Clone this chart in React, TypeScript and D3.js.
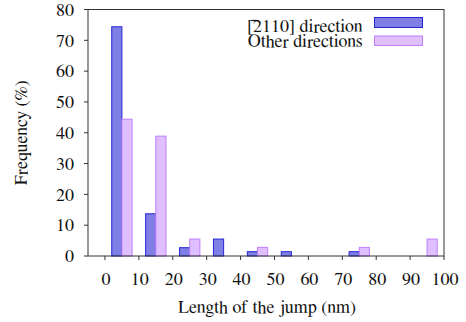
import React from "react";
import * as d3 from "d3";

// bin centres (nm) and frequencies (%)
const binCenters = [5, 15, 25, 35, 45, 55, 65, 75, 85, 95];
const mainDirection = [74.4, 13.7, 2.7, 5.5, 1.4, 1.4, 0, 1.4, 0, 0];
const otherDirections = [44.4, 38.9, 5.5, 0, 2.8, 0, 0, 2.8, 0, 5.5];
const xTicks = [0, 10, 20, 30, 40, 50, 60, 70, 80, 90, 100];
const yTicks = [0, 10, 20, 30, 40, 50, 60, 70, 80];

const W = 466;
const H = 322;
const margin = { top: 9.5, right: 22, bottom: 66, left: 88 };
const FONT = "FreeSerif";
const AXIS = "#333";
const txt = { fontFamily: FONT, fontSize: 18, fill: "#111" };

const series = [
  { name: "main", values: mainDirection, offset: -3, fill: "#7f7fe6", stroke: "#2626d4" },
  { name: "other", values: otherDirections, offset: 0, fill: "#dfbfff", stroke: "#bf7fff" },
];

export default function App() {
  const x = d3.scaleLinear().domain([-5, 100]).range([margin.left, W - margin.right]);
  const y = d3.scaleLinear().domain([0, 80]).range([H - margin.bottom, margin.top]);
  const x0 = x(-5), x1 = x(100), y0 = y(0), y1 = y(80);
  const legendX = 362.5;

  return (
    <svg width={W} height={H} style={{ position: "absolute", left: 0, top: 0, background: "#fff" }}>
      {series.map(s =>
        s.values.map((v, i) =>
          v > 0 ? (
            <rect
              key={s.name + i}
              x={x(binCenters[i] + s.offset)}
              y={y(v)}
              width={x(binCenters[i] + s.offset + 3) - x(binCenters[i] + s.offset)}
              height={y(0) - y(v)}
              fill={s.fill}
              stroke={s.stroke}
              strokeWidth={1}
            />
          ) : null
        )
      )}

      {/* frame */}
      <rect x={x0} y={y1} width={x1 - x0} height={y0 - y1} fill="none" stroke={AXIS} strokeWidth={1} />

      {/* x ticks */}
      {xTicks.map(t => (
        <g key={"x" + t}>
          <line x1={x(t)} x2={x(t)} y1={y0} y2={y0 + 4} stroke={AXIS} />
          <text x={x(t) + 1} y={285} textAnchor="middle" style={txt}>{t}</text>
        </g>
      ))}

      {/* y ticks */}
      {yTicks.map(t => (
        <g key={"y" + t}>
          <line x1={x0 - 4} x2={x0} y1={y(t)} y2={y(t)} stroke={AXIS} />
          <text x={74} y={y(t)} dy="0.35em" textAnchor="end" style={txt}>{t}</text>
        </g>
      ))}

      <text x={267} y={313} textAnchor="middle" style={txt}>Length of the jump (nm)</text>
      <text transform={`translate(27,${(y0 + y1) / 2}) rotate(-90)`} textAnchor="middle" style={txt}>
        Frequency (%)
      </text>

      {/* legend */}
      <text x={legendX} y={32} textAnchor="end" style={txt}>[2110] direction</text>
      {/* bar over the "2" */}
      <line x1={legendX - 111} x2={legendX - 104.5} y1={20.5} y2={20.5} stroke="#111" strokeWidth={1.2} />
      <text x={legendX} y={46.5} textAnchor="end" style={txt}>Other directions</text>
      <rect x={374.5} y={17.5} width={48} height={10} fill={series[0].fill} stroke={series[0].stroke} />
      <rect x={374.5} y={36} width={48} height={9.5} fill={series[1].fill} stroke={series[1].stroke} />
    </svg>
  );
}
